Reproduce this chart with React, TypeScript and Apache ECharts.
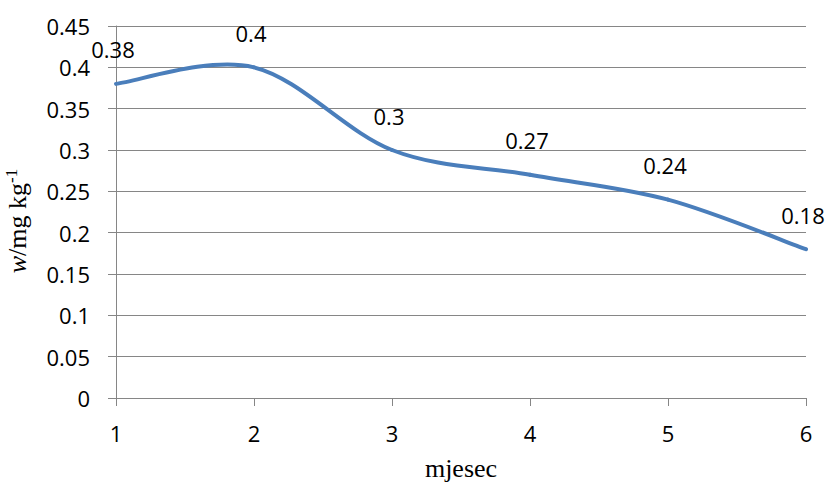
import React, { useEffect, useRef } from "react";
import * as echarts from "echarts";

const months = [1, 2, 3, 4, 5, 6];
const values = [0.38, 0.4, 0.3, 0.27, 0.24, 0.18];
const xAxisName = "mjesec";

export default function App() {
  const ref = useRef<HTMLDivElement>(null);
  useEffect(() => {
    if (!ref.current) return;
    const chart = echarts.init(ref.current, null, { renderer: "svg" });
    const grid = "#868686";
    const labelFont = { fontFamily: "Open Sans", fontSize: 22, color: "#000" };
    const n = months.length;
    const pts = months.map((m, i) => [m, values[i]]);
    chart.setOption({
      animation: false,
      backgroundColor: "#fff",
      grid: {
        left: 116,
        right: 24,
        top: 26,
        bottom: 87,
        containLabel: false,
        outerBoundsMode: "none",
      },
      xAxis: {
        type: "value",
        min: 1,
        max: 6,
        interval: 1,
        name: xAxisName,
        nameLocation: "middle",
        nameGap: 57,
        nameTextStyle: { fontFamily: "Liberation Serif", fontSize: 26, color: "#000" },
        axisLine: { lineStyle: { color: grid, width: 1 } },
        axisTick: { length: 8, lineStyle: { color: grid } },
        axisLabel: { ...labelFont, margin: 24 },
        splitLine: { show: false },
      },
      yAxis: {
        type: "value",
        min: 0,
        max: 0.45,
        interval: 0.05,
        name: "{i|w}{n|/mg kg}{s|-1}",
        nameLocation: "middle",
        nameGap: 85,
        nameTextStyle: {
          fontFamily: "Liberation Serif",
          fontSize: 26,
          lineHeight: 28,
          color: "#000",
          padding: [0, 18, 0, 0],
          rich: {
            i: { fontFamily: "Liberation Serif", fontSize: 26, lineHeight: 28, fontStyle: "italic", color: "#000" },
            n: { fontFamily: "Liberation Serif", fontSize: 26, lineHeight: 28, color: "#000" },
            s: { fontFamily: "Liberation Serif", fontSize: 17, lineHeight: 28, color: "#000", verticalAlign: "top", padding: [0, 0, 8, 0] },
          },
        },
        axisLine: { show: true, lineStyle: { color: grid, width: 1 } },
        axisTick: { show: true, length: 8, lineStyle: { color: grid } },
        axisLabel: {
          ...labelFont,
          margin: 26,
          formatter: (v: number) => String(+v.toFixed(2)),
        },
        splitLine: { show: true, lineStyle: { color: grid, width: 1 } },
      },
      series: [
        {
          type: "custom",
          data: pts,
          encode: { x: 0, y: 1 },
          renderItem: (params: any, api: any) => {
            const i = params.dataIndex;
            if (i >= n - 1) return { type: "group", children: [] };
            const c = (k: number) => {
              const kk = Math.max(0, Math.min(n - 1, k));
              return api.coord(pts[kk]);
            };
            const p0 = c(i - 1), p1 = c(i), p2 = c(i + 1), p3 = c(i + 2);
            return {
              type: "bezierCurve",
              shape: {
                x1: p1[0], y1: p1[1],
                x2: p2[0], y2: p2[1],
                cpx1: p1[0] + (p2[0] - p0[0]) / 6,
                cpy1: p1[1] + (p2[1] - p0[1]) / 6,
                cpx2: p2[0] - (p3[0] - p1[0]) / 6,
                cpy2: p2[1] - (p3[1] - p1[1]) / 6,
              },
              style: { stroke: "#4a7ebb", lineWidth: 4, fill: "none", lineCap: "round" },
            };
          },
          z: 3,
        },
        {
          type: "scatter",
          data: pts,
          symbolSize: 1,
          itemStyle: { color: "rgba(0,0,0,0)" },
          label: {
            show: true,
            position: "top",
            distance: 5,
            offset: [-3, -18],
            ...labelFont,
            opacity: 1,
            textBorderWidth: 0,
            formatter: (p: any) => String(p.value[1]),
          },
          z: 4,
        },
      ],
    });
    return () => chart.dispose();
  }, []);
  return (
    <div
      ref={ref}
      style={{ position: "absolute", left: 0, top: 0, width: 830, height: 485 }}
    />
  );
}
